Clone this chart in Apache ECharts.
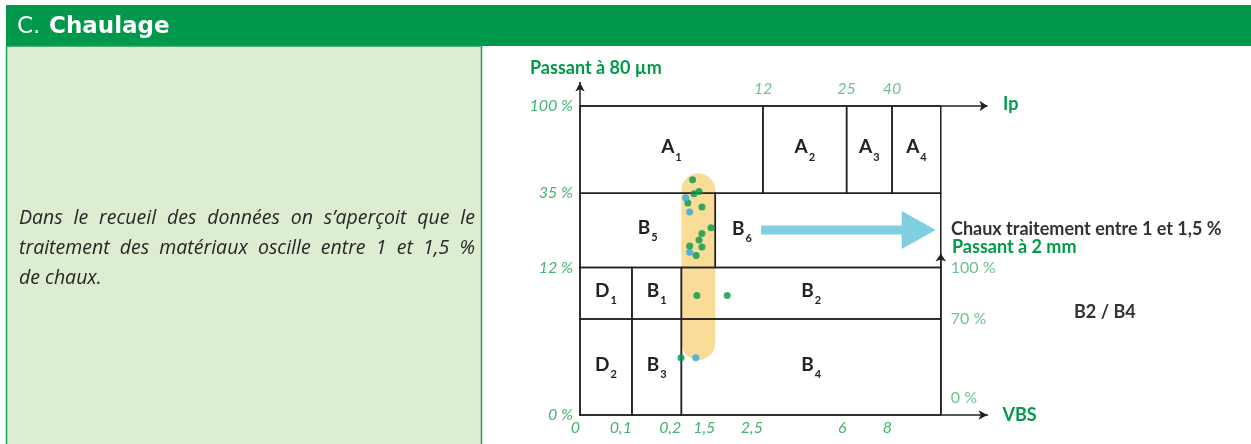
<!DOCTYPE html>
<html>
<head>
<meta charset="utf-8">
<title>C. Chaulage</title>
<script src="https://cdn.jsdelivr.net/npm/echarts@6/dist/echarts.min.js"></script>
<style>
  html, body { margin: 0; padding: 0; background: #fff; }
  #chart { width: 1251px; height: 444px; }
</style>
</head>
<body>
<div id="chart"></div>
<script>
// tick labels, placed on a schematic 0-100 scale across the class box
const vbsLabels = ['0', '0,1', '0,2', '1,5', '2,5', '6', '8'];
const vbsAt = [0, 14.4, 28.1, 37.5, 50.7, 73.9, 86.5];
const ipLabels = ['12', '25', '40'];
const ipAt = [50.7, 73.9, 86.5];
const p80Labels = ['100 %', '35 %', '12 %', '0 %'];
const p80At = [100, 71.8, 47.7, 0];
const p2Labels = ['100 %', '70 %', '0 %'];
const p2At = [47.7, 31.1, 0];

// GTR classes : [x0, x1, y0, y1]
const classNames = ['A1', 'A2', 'A3', 'A4', 'B5', 'B6', 'D1', 'B1', 'B2', 'D2', 'B3', 'B4'];
const classBox = [
  [0, 50.7, 71.8, 100], [50.7, 73.9, 71.8, 100], [73.9, 86.5, 71.8, 100], [86.5, 100, 71.8, 100],
  [0, 37.5, 47.7, 71.8], [37.5, 100, 47.7, 71.8],
  [0, 14.4, 31.1, 47.7], [14.4, 28.1, 31.1, 47.7], [28.1, 100, 31.1, 47.7],
  [0, 14.4, 0, 31.1], [14.4, 28.1, 0, 31.1], [28.1, 100, 0, 31.1]
];
const b6LabelAt = [44.9, 59.5];

// samples from the data collection
const greenSamples = [
  [31.2, 76.1], [31.6, 71.6], [33.0, 72.3], [29.9, 68.6], [33.8, 67.3], [36.3, 60.6],
  [33.8, 58.7], [33.0, 56.6], [30.4, 54.7], [33.8, 54.4], [32.2, 51.6],
  [32.4, 38.7], [40.8, 38.7], [28.0, 18.5]
];
const blueSamples = [[29.3, 70.3], [30.4, 65.7], [30.4, 52.7], [32.1, 18.5]];

// lime 1 - 1,5 % band and the trend arrow
const limeBand = [28.1, 37.5, 17.8, 78.2];
const trendArrow = [[50.2, 59.9], [98.6, 59.9]];

const paraLines = [
  'Dans le recueil des données on s’aperçoit que le',
  'traitement des matériaux oscille entre 1 et 1,5 %',
  'de chaux.'
];

const xMax = 112.95, yMax = 107.6;
const tickGreen = '#45b36f';
const titleGreen = '#009a49';
const ink = '#222222';

const paraFont = 'italic 19.5px "Open Sans"';
const mainFont = 'bold 19px Lato';
const subFont = 'bold 11px Lato';
const ctx = document.createElement('canvas').getContext('2d');

function paragraph() {
  ctx.font = paraFont;
  const els = [];
  paraLines.forEach((line, i) => {
    const words = line.split(' ');
    const widths = words.map(w => ctx.measureText(w).width);
    const total = widths.reduce((a, b) => a + b, 0);
    const last = i === paraLines.length - 1;
    const gap = last ? ctx.measureText(' ').width : (456 - total) / (words.length - 1);
    let x = 19;
    words.forEach((w, j) => {
      els.push({
        type: 'text', x: x, y: 218 + i * 30,
        style: { text: w, font: paraFont, fill: '#262626', verticalAlign: 'middle' }
      });
      x += widths[j] + gap;
    });
  });
  return els;
}

function textWidth(t, font) {
  ctx.font = font;
  return ctx.measureText(t).width;
}

const chart = echarts.init(document.getElementById('chart'), null, { renderer: 'canvas' });

const option = {
  animation: false,
  backgroundColor: '#ffffff',
  grid: { left: 580, top: 82.5, width: 407.5, height: 332.5 },
  xAxis: {
    type: 'value', min: 0, max: xMax,
    splitLine: { show: false },
    axisTick: { show: false },
    axisLine: {
      show: true, onZero: false, symbol: ['none', 'arrow'], symbolSize: [7, 9],
      lineStyle: { color: ink, width: 1.5 }
    },
    axisLabel: {
      customValues: vbsAt,
      formatter: v => vbsLabels[vbsAt.indexOf(v)],
      align: 'right', margin: 5,
      color: tickGreen, fontStyle: 'italic', fontSize: 16, fontFamily: 'Lato'
    },
    name: 'VBS', nameLocation: 'end', nameGap: 15,
    nameTextStyle: { color: titleGreen, fontWeight: 'bold', fontSize: 18, fontFamily: 'Lato' }
  },
  yAxis: {
    type: 'value', min: 0, max: yMax,
    splitLine: { show: false },
    axisTick: { show: false },
    axisLine: {
      show: true, onZero: false, symbol: ['none', 'arrow'], symbolSize: [7, 9],
      lineStyle: { color: ink, width: 1.5 }
    },
    axisLabel: {
      customValues: p80At,
      formatter: v => p80Labels[p80At.indexOf(v)],
      margin: 7, verticalAlign: 'middle', padding: [0, 0, 10, 0],
      color: tickGreen, fontStyle: 'italic', fontSize: 16, fontFamily: 'Lato'
    }
  },
  graphic: [
    { type: 'rect', shape: { x: 6, y: 5, width: 1245, height: 41 }, style: { fill: '#00984b' }, z: 0 },
    {
      type: 'rect', shape: { x: 6.5, y: 46, width: 475, height: 420 },
      style: { fill: '#ddedd1', stroke: '#1f9e55', lineWidth: 1.5 }, z: 0
    },
    {
      type: 'text', x: 17, y: 27,
      style: { text: 'C.', font: '23px "DejaVu Sans"', fill: '#fff', verticalAlign: 'middle' }
    },
    {
      type: 'text', x: 49, y: 27,
      style: { text: 'Chaulage', font: 'bold 23px "DejaVu Sans"', fill: '#fff', verticalAlign: 'middle' }
    },
    ...paragraph(),
    {
      type: 'text', x: 530, y: 68,
      style: { text: 'Passant à 80 µm', font: 'bold 18px Lato', fill: titleGreen, verticalAlign: 'middle' }
    },
    {
      type: 'text', x: 1003, y: 104,
      style: { text: 'Ip', font: 'bold 18px Lato', fill: titleGreen, verticalAlign: 'middle' }
    },
    {
      type: 'text', x: 951, y: 229,
      style: { text: 'Chaux traitement entre 1 et 1,5 %', font: 'bold 18px Lato', fill: '#333', verticalAlign: 'middle' }
    },
    {
      type: 'text', x: 952, y: 247,
      style: { text: 'Passant à 2 mm', font: 'bold 18px Lato', fill: titleGreen, verticalAlign: 'middle' }
    },
    {
      type: 'text', x: 1074, y: 312,
      style: { text: 'B2 / B4', font: 'bold 18px Lato', fill: '#333', verticalAlign: 'middle' }
    }
  ],
  series: [
    {
      // lime treatment band
      type: 'custom', z: 1, silent: true,
      data: [limeBand],
      renderItem: (params, api) => {
        const a = api.coord([api.value(0), api.value(3)]);
        const b = api.coord([api.value(1), api.value(2)]);
        const w = b[0] - a[0];
        return {
          type: 'rect',
          shape: { x: a[0], y: a[1], width: w, height: b[1] - a[1], r: w / 2 },
          style: { fill: '#f8dc98' }
        };
      }
    },
    {
      // class boxes
      type: 'custom', z: 2, silent: true,
      data: classBox,
      renderItem: (params, api) => {
        const a = api.coord([api.value(0), api.value(3)]);
        const b = api.coord([api.value(1), api.value(2)]);
        return {
          type: 'rect',
          shape: { x: a[0], y: a[1], width: b[0] - a[0], height: b[1] - a[1] },
          style: { fill: 'none', stroke: ink, lineWidth: 1.5 }
        };
      }
    },
    {
      // Ip axis on top and passant 2 mm axis on the right
      type: 'lines', coordinateSystem: 'cartesian2d', z: 2, silent: true,
      symbol: ['none', 'arrow'], symbolSize: 8,
      lineStyle: { color: ink, width: 1.5, opacity: 1, curveness: 0 },
      data: [
        { coords: [[0, 100], [xMax, 100]] },
        { coords: [[100, 0], [100, 52.3]] }
      ]
    },
    {
      // trend arrow
      type: 'custom', z: 3, silent: true,
      data: [trendArrow[0].concat(trendArrow[1])],
      renderItem: (params, api) => {
        const p0 = api.coord([api.value(0), api.value(1)]);
        const p1 = api.coord([api.value(2), api.value(3)]);
        const y = p0[1], hs = 4.5, hh = 19, hl = 34;
        return {
          type: 'polygon',
          shape: {
            points: [
              [p0[0], y - hs], [p1[0] - hl, y - hs], [p1[0] - hl, y - hh], [p1[0], y],
              [p1[0] - hl, y + hh], [p1[0] - hl, y + hs], [p0[0], y + hs]
            ]
          },
          style: { fill: '#7fcfe0' }
        };
      }
    },
    {
      type: 'scatter', z: 4, silent: true,
      symbolSize: 7, itemStyle: { color: '#00984a' },
      data: greenSamples
    },
    {
      type: 'scatter', z: 4, silent: true,
      symbolSize: 7, itemStyle: { color: '#2ba9e1' },
      data: blueSamples
    },
    {
      // class names with subscript
      type: 'custom', z: 5, silent: true,
      data: classNames.map((n, i) => {
        const b = classBox[i];
        return n === 'B6' ? b6LabelAt : [(b[0] + b[1]) / 2, (b[2] + b[3]) / 2];
      }),
      renderItem: (params, api) => {
        const name = classNames[params.dataIndex];
        const c = api.coord([api.value(0), api.value(1)]);
        const wm = textWidth(name[0], mainFont);
        const ws = textWidth(name.slice(1), subFont);
        const x0 = c[0] - (wm + ws + 1) / 2;
        return {
          type: 'group',
          children: [
            {
              type: 'text', x: x0, y: c[1] + 7,
              style: { text: name[0], font: mainFont, fill: ink, verticalAlign: 'bottom' }
            },
            {
              type: 'text', x: x0 + wm + 1, y: c[1] + 2,
              style: { text: name.slice(1), font: subFont, fill: ink, verticalAlign: 'top' }
            }
          ]
        };
      }
    },
    {
      // Ip ticks
      type: 'scatter', z: 5, silent: true, symbolSize: 0,
      data: ipAt.map(x => [x, 100]),
      label: {
        show: true, position: 'top', distance: 9,
        formatter: p => ipLabels[p.dataIndex],
        color: tickGreen, fontStyle: 'italic', fontSize: 16, fontFamily: 'Lato'
      }
    },
    {
      // passant 2 mm ticks
      type: 'scatter', z: 5, silent: true, symbolSize: 0,
      data: p2At.map((y, i) => i === p2At.length - 1
        ? { value: [100, y], label: { offset: [0, -17] } }
        : [100, y]),
      label: {
        show: true, position: 'right', distance: 10,
        formatter: p => p2Labels[p.dataIndex],
        color: tickGreen, fontSize: 16, fontFamily: 'Lato'
      }
    }
  ]
};

chart.setOption(option);
</script>
</body>
</html>
